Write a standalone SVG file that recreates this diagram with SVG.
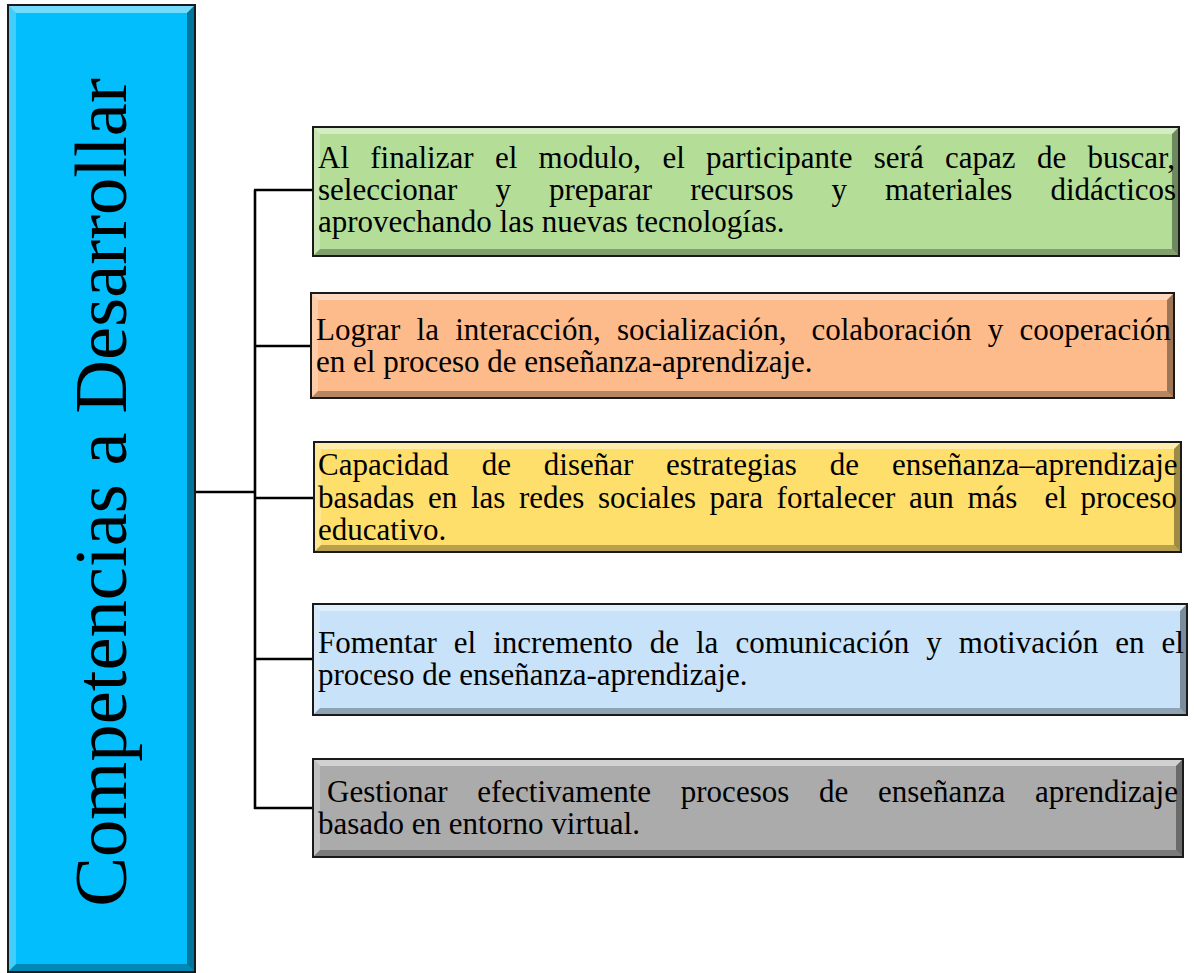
<svg xmlns="http://www.w3.org/2000/svg" width="1194" height="973" viewBox="0 0 1194 973">
<style>
.t{font-family:"Liberation Serif","Times New Roman",serif;font-size:31px;fill:#000}
.title{font-family:"Liberation Serif","Times New Roman",serif;font-size:74.6px;fill:#000}
.hl{fill:#fff;fill-opacity:.45}
.sl{fill:#fff;fill-opacity:.25}
.sr{fill:#000;fill-opacity:.38}
.sb{fill:#000;fill-opacity:.28}
.bd{fill:none;stroke:#1a1a1a;stroke-width:2}
.cn{fill:none;stroke:#000;stroke-width:2.6}
</style>
<rect width="1194" height="973" fill="#fff"/>
<g id="connectors">
<line class="cn" x1="195" y1="492" x2="256" y2="492"/>
<line class="cn" x1="255" y1="190" x2="255" y2="809"/>
<line class="cn" x1="254" y1="190" x2="313" y2="190"/>
<line class="cn" x1="254" y1="346" x2="311" y2="346"/>
<line class="cn" x1="254" y1="498" x2="314" y2="498"/>
<line class="cn" x1="254" y1="659" x2="313" y2="659"/>
<line class="cn" x1="254" y1="808" x2="313" y2="808"/>
</g>
<g id="root">
<rect x="8" y="5" width="187" height="967" fill="#02BEFC"/>
<polygon class="hl" points="8,5 195,5 187,13 16,13"/>
<polygon class="sl" points="8,5 16,13 16,964 8,972"/>
<polygon class="sr" points="195,5 195,972 187,964 187,13"/>
<polygon class="sb" points="8,972 195,972 187,964 16,964"/>
<rect class="bd" x="8" y="5" width="187" height="967"/>
<text class="title" transform="translate(126,492.5) rotate(-90)" text-anchor="middle">Competencias a Desarrollar</text>
</g>
<g id="node1">
<rect x="313" y="127" width="866" height="129" fill="#B4DD98"/>
<polygon class="hl" points="313,127 1179,127 1172,134 320,134"/>
<polygon class="sl" points="313,127 320,134 320,249 313,256"/>
<polygon class="sr" points="1179,127 1179,256 1172,249 1172,134"/>
<polygon class="sb" points="313,256 1179,256 1172,249 320,249"/>
<rect class="bd" x="313" y="127" width="866" height="129"/>
<text class="t" y="168"><tspan x="318">Al</tspan> <tspan x="370.3">finalizar</tspan> <tspan x="494.9">el</tspan> <tspan x="538.6">modulo,</tspan> <tspan x="662.4">el</tspan> <tspan x="706.1">participante</tspan> <tspan x="873.8">será</tspan> <tspan x="945">capaz</tspan> <tspan x="1036.9">de</tspan> <tspan x="1087.5">buscar,</tspan></text>
<text class="t" y="200"><tspan x="318">seleccionar</tspan> <tspan x="495.4">y</tspan> <tspan x="548.9">preparar</tspan> <tspan x="690.2">recursos</tspan> <tspan x="831.5">y</tspan> <tspan x="885">materiales</tspan> <tspan x="1050.4">didácticos</tspan></text>
<text class="t" x="318" y="232">aprovechando las nuevas tecnologías.</text>
</g>
<g id="node2">
<rect x="311" y="293" width="863" height="105" fill="#FDBB8C"/>
<polygon class="hl" points="311,293 1174,293 1167,300 318,300"/>
<polygon class="sl" points="311,293 318,300 318,391 311,398"/>
<polygon class="sr" points="1174,293 1174,398 1167,391 1167,300"/>
<polygon class="sb" points="311,398 1174,398 1167,391 318,391"/>
<rect class="bd" x="311" y="293" width="863" height="105"/>
<text class="t" y="340"><tspan x="316">Lograr</tspan> <tspan x="416.6">la</tspan> <tspan x="455.2">interacción,</tspan> <tspan x="616.9">socialización,</tspan> <tspan x="811.4">colaboración</tspan> <tspan x="987.7">y</tspan> <tspan x="1019.4">cooperación</tspan></text>
<text class="t" x="316" y="372">en el proceso de enseñanza-aprendizaje.</text>
</g>
<g id="node3">
<rect x="314" y="442" width="867" height="110" fill="#FFDF6C"/>
<polygon class="hl" points="314,442 1181,442 1174,449 321,449"/>
<polygon class="sl" points="314,442 321,449 321,545 314,552"/>
<polygon class="sr" points="1181,442 1181,552 1174,545 1174,449"/>
<polygon class="sb" points="314,552 1181,552 1174,545 321,545"/>
<rect class="bd" x="314" y="442" width="867" height="110"/>
<text class="t" y="475"><tspan x="318">Capacidad</tspan> <tspan x="481.7">de</tspan> <tspan x="543.8">diseñar</tspan> <tspan x="666.1">estrategias</tspan> <tspan x="829.8">de</tspan> <tspan x="891.9">enseñanza–aprendizaje</tspan></text>
<text class="t" y="507.5"><tspan x="318">basadas</tspan> <tspan x="428">en</tspan> <tspan x="470.9">las</tspan> <tspan x="518.9">redes</tspan> <tspan x="597.9">sociales</tspan> <tspan x="709.6">para</tspan> <tspan x="776.6">fortalecer</tspan> <tspan x="909">aun</tspan> <tspan x="967.4">más</tspan> <tspan x="1044.5">el</tspan> <tspan x="1080.5">proceso</tspan></text>
<text class="t" x="318" y="540">educativo.</text>
</g>
<g id="node4">
<rect x="313" y="604" width="874" height="111" fill="#C7E2F9"/>
<polygon class="hl" points="313,604 1187,604 1180,611 320,611"/>
<polygon class="sl" points="313,604 320,611 320,708 313,715"/>
<polygon class="sr" points="1187,604 1187,715 1180,708 1180,611"/>
<polygon class="sb" points="313,715 1187,715 1180,708 320,708"/>
<rect class="bd" x="313" y="604" width="874" height="111"/>
<text class="t" y="653"><tspan x="318">Fomentar</tspan> <tspan x="453.8">el</tspan> <tspan x="493.2">incremento</tspan> <tspan x="649.7">de</tspan> <tspan x="696">la</tspan> <tspan x="735.4">comunicación</tspan> <tspan x="926.3">y</tspan> <tspan x="958.8">motivación</tspan> <tspan x="1115.3">en</tspan> <tspan x="1161.6">el</tspan></text>
<text class="t" x="318" y="685">proceso de enseñanza-aprendizaje.</text>
</g>
<g id="node5">
<rect x="313" y="759" width="870" height="98" fill="#ABABAB"/>
<polygon class="hl" points="313,759 1183,759 1176,766 320,766"/>
<polygon class="sl" points="313,759 320,766 320,850 313,857"/>
<polygon class="sr" points="1183,759 1183,857 1176,850 1176,766"/>
<polygon class="sb" points="313,857 1183,857 1176,850 320,850"/>
<rect class="bd" x="313" y="759" width="870" height="98"/>
<text class="t" y="802"><tspan x="327">Gestionar</tspan> <tspan x="477.2">efectivamente</tspan> <tspan x="680.8">procesos</tspan> <tspan x="819">de</tspan> <tspan x="878">enseñanza</tspan> <tspan x="1035.1">aprendizaje</tspan></text>
<text class="t" x="318" y="834">basado en entorno virtual.</text>
</g>
</svg>
